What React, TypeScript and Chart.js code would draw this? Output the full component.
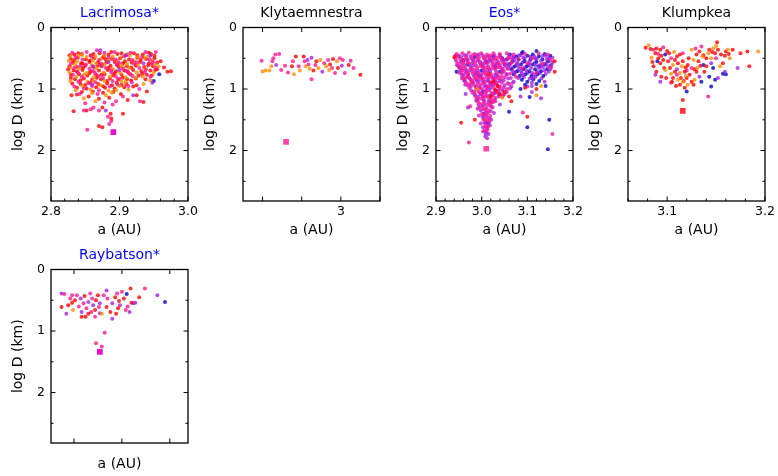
import React, { useEffect, useRef } from 'react';
import { Chart, registerables } from 'chart.js';
Chart.register(...registerables);

const FONT = "'DejaVu Sans', sans-serif";
const COL = {
  red: 'rgba(255,0,0,0.8)',
  orange: 'rgba(255,140,0,0.8)',
  pink: 'rgba(255,20,147,0.8)',
  purple: 'rgba(165,35,225,0.8)',
  violet: 'rgba(200,30,200,0.8)',
  blue: 'rgba(20,20,200,0.85)',
  magenta: 'rgba(230,0,200,0.95)',
};

// y axis (log D) ticks shared by all panels
const yTicks = [0, 0.5, 1, 1.5, 2, 2.5];
const yLabels = ['0', '', '1', '', '2', ''];

// ---------- Lacrimosa* ----------
const lacXTicks = [2.8, 2.82, 2.84, 2.86, 2.88, 2.9, 2.92, 2.94, 2.96, 2.98, 3.0];
const lacXLabels = ['2.8', '', '', '', '', '2.9', '', '', '', '', '3.0'];
const lacRed = [
  2.834,0.44, 2.845,0.43, 2.858,0.45, 2.871,0.42, 2.884,0.44, 2.897,0.43, 2.909,0.45, 2.921,0.42, 2.934,0.44, 2.946,0.43,
  2.829,0.51, 2.839,0.49, 2.851,0.52, 2.863,0.50, 2.876,0.49, 2.889,0.51, 2.901,0.50, 2.914,0.52, 2.926,0.49, 2.939,0.51, 2.951,0.50,
  2.832,0.57, 2.844,0.58, 2.856,0.56, 2.868,0.58, 2.881,0.57, 2.893,0.56, 2.905,0.58, 2.918,0.57, 2.930,0.56, 2.943,0.58,
  2.827,0.63, 2.838,0.64, 2.850,0.62, 2.862,0.64, 2.874,0.63, 2.887,0.62, 2.899,0.64, 2.911,0.63, 2.924,0.62, 2.936,0.64, 2.949,0.63,
  2.833,0.70, 2.846,0.69, 2.858,0.71, 2.870,0.70, 2.883,0.69, 2.895,0.71, 2.907,0.70, 2.920,0.69, 2.932,0.71, 2.945,0.70,
  2.829,0.77, 2.841,0.76, 2.853,0.78, 2.866,0.77, 2.878,0.76, 2.891,0.78, 2.903,0.77, 2.916,0.76, 2.928,0.78, 2.940,0.77,
  2.835,0.84, 2.848,0.83, 2.860,0.85, 2.873,0.84, 2.886,0.83, 2.898,0.85, 2.911,0.84, 2.924,0.83,
  2.831,0.91, 2.843,0.92, 2.857,0.90, 2.869,0.92, 2.882,0.91, 2.896,0.90, 2.910,0.92,
  2.838,0.98, 2.852,0.99, 2.866,0.97, 2.879,0.98, 2.893,0.99, 2.907,0.97, 2.920,0.96,
  2.845,1.05, 2.861,1.04, 2.876,1.06, 2.891,1.05, 2.902,1.08,
  2.830,1.10, 2.838,1.09, 2.855,1.12, 2.870,1.16, 2.885,1.14, 2.912,1.18, 2.935,1.21, 2.925,1.10, 2.940,1.04,
  2.833,1.36, 2.852,1.35, 2.875,1.30, 2.888,1.48, 2.870,1.60, 2.875,1.62, 2.960,0.55, 2.965,0.65, 2.975,0.71,
  2.970,0.72, 2.955,0.68, 2.905,1.40, 2.887,1.40,
  2.827,0.45, 2.840,0.42, 2.862,0.43, 2.877,0.47, 2.888,0.40, 2.903,0.42, 2.926,0.45, 2.943,0.41, 2.951,0.46,
  2.834,0.53, 2.857,0.535, 2.869,0.56, 2.880,0.52, 2.908,0.55, 2.931,0.53, 2.955,0.57, 2.846,0.585,
  2.825,0.68, 2.847,0.655, 2.868,0.62, 2.884,0.655, 2.896,0.61, 2.917,0.65, 2.942,0.615, 2.952,0.69,
  2.838,0.715, 2.856,0.745, 2.874,0.765, 2.893,0.745, 2.912,0.72, 2.933,0.755, 2.947,0.78,
  2.829,0.82, 2.843,0.86, 2.867,0.815, 2.882,0.87, 2.905,0.815, 2.917,0.86, 2.938,0.84,
  2.850,0.935, 2.876,0.955, 2.889,0.94, 2.903,0.93, 2.925,0.94,
];
const lacOrange = [
  2.828,0.47, 2.840,0.46, 2.852,0.48, 2.865,0.47, 2.878,0.46, 2.890,0.47, 2.903,0.48, 2.915,0.46, 2.927,0.48, 2.941,0.47,
  2.826,0.54, 2.838,0.55, 2.861,0.54, 2.884,0.53, 2.897,0.54, 2.922,0.55, 2.947,0.54,
  2.835,0.60, 2.859,0.61, 2.878,0.60, 2.902,0.61, 2.927,0.60, 2.952,0.61,
  2.841,0.67, 2.866,0.66, 2.890,0.67, 2.914,0.66, 2.939,0.67,
  2.827,0.73, 2.852,0.74, 2.877,0.73, 2.901,0.74, 2.925,0.73, 2.950,0.74,
  2.837,0.80, 2.862,0.81, 2.886,0.80, 2.909,0.81, 2.934,0.80,
  2.828,0.87, 2.853,0.88, 2.878,0.87, 2.903,0.88, 2.945,0.86,
  2.846,0.95, 2.872,0.94, 2.900,0.95, 2.935,0.92,
  2.836,1.02, 2.858,1.01, 2.884,1.03, 2.913,1.01,
  2.865,1.20, 2.880,1.10, 2.895,1.02, 2.848,1.15,
  2.845,0.445, 2.873,0.51, 2.912,0.43, 2.936,0.49, 2.866,0.585, 2.911,0.59, 2.829,0.65, 2.905,0.64, 2.957,0.63,
  2.848,0.765, 2.923,0.815, 2.862,0.87, 2.909,0.88, 2.889,1.06, 2.860,1.07,
];
const lacPink = [
  2.831,0.41, 2.852,0.40, 2.867,0.37, 2.878,0.41, 2.893,0.40, 2.916,0.41, 2.938,0.40, 2.953,0.40,
  2.846,0.52, 2.870,0.53, 2.894,0.52, 2.919,0.53, 2.944,0.52,
  2.829,0.59, 2.851,0.60, 2.874,0.59, 2.897,0.60, 2.921,0.59, 2.947,0.59,
  2.834,0.66, 2.856,0.67, 2.880,0.66, 2.905,0.67, 2.929,0.66, 2.953,0.66,
  2.839,0.73, 2.864,0.74, 2.888,0.73, 2.913,0.74, 2.937,0.73,
  2.845,0.80, 2.870,0.79, 2.895,0.80, 2.919,0.79, 2.945,0.80,
  2.840,0.88, 2.865,0.89, 2.890,0.87, 2.918,0.89,
  2.834,0.96, 2.860,0.95, 2.886,0.96, 2.913,0.95, 2.929,1.00,
  2.842,1.08, 2.868,1.08, 2.905,1.12, 2.930,1.20, 2.848,1.35, 2.858,1.33, 2.862,1.30, 2.870,1.35,
  2.883,1.45, 2.888,1.52, 2.885,1.57, 2.853,1.66, 2.890,1.25, 2.895,1.20, 2.878,1.22, 2.850,1.23,
  2.836,0.485, 2.859,0.47, 2.884,0.485, 2.907,0.47, 2.933,0.48, 2.949,0.56, 2.925,0.57, 2.899,0.57, 2.872,0.605,
  2.843,0.625, 2.862,0.705, 2.888,0.695, 2.910,0.705, 2.938,0.685, 2.832,0.77, 2.876,0.82, 2.900,0.835, 2.855,0.905,
  2.897,0.925, 2.870,1.02, 2.848,0.99,
];
const lacPurple = [
  2.872,0.37, 2.910,0.45, 2.861,0.63, 2.900,0.69, 2.935,0.58, 2.945,0.46, 2.884,0.56, 2.948,0.90,
  2.860,0.93, 2.920,1.10, 2.880,1.35,
];
const lacBlue = [2.958,0.76, 2.950,0.87];
const lacBig = [2.891,1.70];

// ---------- Klytaemnestra ----------
const klyXTicks = [2.92, 2.96, 3.0, 3.04];
const klyXLabels = ['', '', '3', ''];
const klyPink = [
  2.919,0.54, 2.930,0.55, 2.931,0.50, 2.933,0.44, 2.937,0.43, 2.939,0.69, 2.946,0.73, 2.951,0.55, 2.957,0.63,
  2.963,0.55, 2.967,0.60, 2.970,0.84, 2.974,0.61, 2.983,0.58, 2.987,0.53, 2.991,0.66, 2.994,0.74, 2.999,0.50,
  3.002,0.53, 3.004,0.74, 3.010,0.54, 3.013,0.66, 2.943,0.62,
];
const klyOrange = [
  2.920,0.715, 2.923,0.70, 2.927,0.70, 2.929,0.63, 2.952,0.76, 2.958,0.70, 2.964,0.63, 2.968,0.67, 2.977,0.66,
  2.979,0.53, 2.985,0.63, 2.996,0.55, 2.988,0.69,
];
const klyRed = [2.954,0.47, 2.962,0.47, 2.975,0.55, 2.989,0.60, 2.992,0.51, 3.008,0.61, 3.020,0.77, 2.950,0.63, 2.972,0.70, 2.997,0.66];
const klyPurple = [2.934,0.61, 2.966,0.53, 2.970,0.49, 2.981,0.72, 3.001,0.62];
const klyBig = [2.944,1.86];

// ---------- Eos* ----------
const eosXTicks = [2.9, 2.92, 2.94, 2.96, 2.98, 3.0, 3.02, 3.04, 3.06, 3.08, 3.1, 3.12, 3.14, 3.16, 3.18, 3.2];
const eosXLabels = ['2.9', '', '', '', '', '3.0', '', '', '', '', '3.1', '', '', '', '', '3.2'];
const eosRed = [
  3.030,1.02, 3.040,1.08, 3.050,1.05, 3.035,0.95, 3.060,1.12, 3.065,1.20, 2.955,1.55, 2.985,1.50, 3.100,1.45,
  3.160,0.72, 3.120,1.00, 3.095,0.98, 3.020,1.12, 3.025,0.88, 3.015,0.76, 2.940,0.48, 3.160,0.55,
];
const eosOrange = [3.120,1.10, 3.045,1.14, 3.130,0.95, 2.990,1.00];
const eosPink = [
  2.945,0.43, 2.958,0.42, 2.972,0.41, 2.985,0.43, 2.999,0.42, 3.012,0.44, 3.026,0.42, 3.040,0.43, 3.055,0.42, 3.070,0.44, 3.095,0.43, 3.125,0.42, 3.145,0.44,
  2.942,0.50, 2.953,0.51, 2.966,0.49, 2.978,0.50, 2.991,0.51, 3.004,0.49, 3.017,0.50, 3.030,0.52, 3.043,0.50, 3.058,0.49, 3.080,0.51, 3.110,0.50, 3.150,0.52,
  2.947,0.58, 2.960,0.57, 2.973,0.59, 2.986,0.57, 2.998,0.58, 3.011,0.59, 3.024,0.57, 3.037,0.58, 3.050,0.59, 3.066,0.57, 3.100,0.58, 3.135,0.59,
  2.951,0.66, 2.964,0.65, 2.977,0.67, 2.990,0.66, 3.003,0.65, 3.016,0.67, 3.029,0.66, 3.042,0.65, 3.057,0.67, 3.088,0.66, 3.152,0.65,
  2.955,0.74, 2.968,0.73, 2.981,0.75, 2.994,0.74, 3.007,0.73, 3.020,0.75, 3.033,0.74, 3.046,0.73, 3.062,0.75, 3.120,0.74,
  2.959,0.82, 2.972,0.81, 2.985,0.83, 2.998,0.82, 3.011,0.81, 3.024,0.83, 3.037,0.82, 3.050,0.81, 3.075,0.80,
  2.966,0.90, 2.979,0.89, 2.992,0.91, 3.005,0.90, 3.018,0.89, 3.031,0.91, 3.044,0.90, 3.060,0.92,
  2.973,0.98, 2.987,0.97, 3.000,0.99, 3.013,0.98, 3.026,0.97, 3.040,0.99, 3.055,1.00,
  2.980,1.06, 2.994,1.05, 3.008,1.07, 3.022,1.06, 3.036,1.05, 3.050,1.08,
  2.988,1.14, 3.002,1.13, 3.016,1.15, 3.030,1.14, 3.045,1.12,
  2.993,1.22, 3.006,1.21, 3.020,1.23, 3.030,1.20, 2.996,1.30, 3.010,1.31, 3.022,1.29, 3.001,1.40, 3.014,1.39,
  3.019,1.44, 3.004,1.50, 3.016,1.52, 3.008,1.60, 3.013,1.66,
  2.972,1.87, 3.155,1.73, 3.090,1.38, 2.975,1.28,
  2.948,0.47, 2.961,0.535, 2.956,0.62, 2.969,0.565, 2.981,0.445, 2.994,0.485, 3.007,0.515, 3.020,0.455, 3.034,0.49,
  3.047,0.565, 3.062,0.505, 2.958,0.70, 2.971,0.75, 2.984,0.685, 2.997,0.625, 3.010,0.66, 3.023,0.61, 3.036,0.645,
  3.049,0.705, 2.965,0.815, 2.978,0.86, 2.991,0.795, 3.004,0.835, 3.017,0.80, 3.030,0.845, 3.043,0.79, 2.975,0.915,
  2.988,0.955, 3.001,0.92, 3.014,0.955, 3.027,0.925, 3.040,0.96, 2.984,1.035, 2.997,1.07, 3.010,1.04, 3.023,1.08,
  3.036,1.02, 2.995,1.16, 3.008,1.125, 3.021,1.17, 2.999,1.245, 3.012,1.26, 3.025,1.215, 3.004,1.33, 3.016,1.345,
  3.007,1.42, 3.012,1.47, 3.009,1.51, 3.014,1.61, 3.006,1.68,
];
const eosMagenta = [
  2.950,0.46, 2.963,0.45, 2.976,0.47, 2.989,0.46, 3.002,0.45, 3.015,0.47, 3.028,0.46, 3.041,0.47, 3.060,0.46, 3.085,0.45, 3.115,0.47, 3.140,0.46,
  2.944,0.54, 2.957,0.55, 2.970,0.53, 2.983,0.54, 2.996,0.55, 3.009,0.53, 3.022,0.54, 3.035,0.55, 3.048,0.54, 3.072,0.53, 3.105,0.55, 3.130,0.54, 3.155,0.56,
  2.949,0.62, 2.962,0.61, 2.975,0.63, 2.988,0.62, 3.001,0.61, 3.014,0.63, 3.027,0.62, 3.040,0.61, 3.053,0.63, 3.080,0.62, 3.118,0.61, 3.145,0.63,
  2.953,0.70, 2.966,0.69, 2.979,0.71, 2.992,0.70, 3.005,0.69, 3.018,0.71, 3.031,0.70, 3.044,0.69, 3.068,0.71, 3.098,0.70, 3.138,0.70,
  2.957,0.78, 2.970,0.77, 2.983,0.79, 2.996,0.78, 3.009,0.77, 3.022,0.79, 3.035,0.78, 3.055,0.77, 3.090,0.78, 3.112,0.82,
  2.963,0.86, 2.976,0.85, 2.989,0.87, 3.002,0.86, 3.015,0.85, 3.028,0.87, 3.048,0.86, 3.070,0.88,
  2.970,0.94, 2.983,0.93, 2.996,0.95, 3.009,0.94, 3.022,0.93, 3.035,0.95, 3.065,0.96,
  2.977,1.02, 2.990,1.01, 3.003,1.03, 3.016,1.02, 3.029,1.01, 3.045,1.03,
  2.985,1.10, 2.998,1.09, 3.011,1.11, 3.024,1.10, 3.038,1.09,
  2.990,1.18, 3.003,1.17, 3.016,1.19, 3.028,1.17, 2.993,1.26, 3.005,1.25, 3.018,1.27, 2.998,1.35, 3.008,1.34,
  3.020,1.36, 3.002,1.45, 3.011,1.44, 3.017,1.48, 3.006,1.55, 3.014,1.57, 3.003,1.62, 3.010,1.70, 3.015,1.73,
  3.008,1.77, 3.012,1.62,
  2.970,1.30, 3.130,1.15, 3.040,1.25, 3.085,1.12, 3.110,1.05, 2.965,1.08, 3.110,0.95, 3.138,0.88,
  2.943,0.455, 2.955,0.48, 2.968,0.515, 2.979,0.575, 2.992,0.535, 3.005,0.575, 3.018,0.525, 3.031,0.585, 3.044,0.535,
  3.057,0.595, 3.070,0.48, 3.078,0.575, 3.091,0.49, 3.104,0.595, 3.117,0.505, 3.130,0.60, 3.143,0.515, 3.153,0.60,
  2.952,0.645, 2.965,0.72, 2.978,0.66, 2.991,0.745, 3.004,0.72, 3.017,0.68, 3.030,0.76, 3.043,0.725, 3.058,0.665,
  3.072,0.74, 3.086,0.71, 3.110,0.735, 3.126,0.66, 3.150,0.68, 2.961,0.765, 2.974,0.83, 2.987,0.765, 3.000,0.805,
  3.013,0.87, 3.026,0.815, 3.039,0.87, 3.058,0.83, 3.080,0.82, 2.981,0.885, 2.994,0.87, 3.007,0.965, 3.020,0.985,
  3.033,0.90, 3.050,0.94, 2.992,1.125, 3.005,1.19, 3.018,1.10, 3.031,1.06, 3.002,1.285, 3.015,1.215, 3.010,1.38,
  3.004,1.47, 3.016,1.54, 3.011,1.64, 3.009,1.73,
];
const eosViolet = [
  2.946,0.615, 2.951,0.735, 2.959,0.665, 2.962,0.87, 2.967,0.455, 2.969,0.80, 2.973,0.695, 2.976,0.955, 2.980,0.52,
  2.982,0.615, 2.985,1.08, 2.987,0.725, 2.989,0.84, 2.993,0.44, 2.995,0.985, 2.997,0.585, 3.000,0.76, 3.002,1.11,
  3.004,0.635, 3.006,0.875, 3.008,0.47, 3.011,1.01, 3.013,0.705, 3.015,0.56, 3.019,0.925, 3.021,1.205, 3.024,0.665,
  3.026,0.50, 3.028,1.07, 3.032,0.795, 3.034,0.605, 3.037,1.12, 3.039,0.445, 3.042,0.84, 3.046,0.665, 3.048,0.985,
  3.052,0.525, 3.054,0.755, 3.057,0.905, 3.061,0.62, 3.064,0.82, 2.988,1.19, 2.991,1.32, 3.024,1.30, 3.027,1.39,
  2.994,1.43, 3.021,1.50, 2.998,1.56, 3.018,1.59, 3.003,1.69, 3.012,1.80, 2.954,0.565, 2.957,0.83, 2.964,0.93,
  3.047,1.10, 3.055,1.05, 3.062,0.99, 3.068,0.90,
];
const eosPurple = [
  3.068,0.49, 3.081,0.455, 3.094,0.505, 3.107,0.475, 3.120,0.51, 3.133,0.465, 3.146,0.505, 3.064,0.575, 3.077,0.59,
  3.090,0.565, 3.103,0.61, 3.116,0.575, 3.129,0.62, 3.142,0.575, 3.155,0.49, 3.069,0.645, 3.082,0.665, 3.095,0.645,
  3.108,0.66, 3.121,0.715, 3.134,0.645, 3.147,0.72, 3.075,0.72, 3.088,0.745, 3.101,0.735, 3.114,0.765, 3.127,0.745,
  3.140,0.755, 3.092,0.81, 3.105,0.835, 3.118,0.80, 3.131,0.83, 3.100,0.96, 3.110,0.90,
];
const eosBlue = [
  3.062,0.44, 3.075,0.47, 3.088,0.42, 3.100,0.46, 3.112,0.44, 3.125,0.47, 3.138,0.43, 3.150,0.46,
  3.055,0.52, 3.068,0.55, 3.081,0.52, 3.094,0.55, 3.107,0.52, 3.120,0.56, 3.133,0.52, 3.146,0.55,
  3.060,0.60, 3.073,0.63, 3.086,0.60, 3.099,0.63, 3.112,0.60, 3.125,0.63, 3.138,0.60, 3.151,0.62,
  3.065,0.68, 3.078,0.71, 3.091,0.68, 3.104,0.71, 3.117,0.68, 3.130,0.71, 3.143,0.68,
  3.070,0.76, 3.083,0.79, 3.096,0.76, 3.109,0.79, 3.122,0.76, 3.135,0.79,
  3.088,0.85, 3.100,0.88, 3.113,0.84, 3.126,0.87, 3.095,0.93, 3.120,0.92, 3.140,0.95,
  2.945,0.72, 2.985,0.48, 3.010,0.56, 3.030,0.64, 2.995,0.80, 3.040,0.72, 3.020,0.90, 2.970,0.60, 3.045,0.50,
  3.005,1.40, 3.010,1.55, 3.002,1.05,
  3.060,1.37, 3.100,1.62, 3.145,1.98, 3.148,1.50, 3.085,1.00, 3.105,1.13, 3.090,0.40, 3.120,0.38,
  2.960,0.53, 3.000,0.70, 3.025,0.47, 3.050,0.60,
];
const eosBig = [3.010,1.97];

// ---------- Klumpkea ----------
const klmXTicks = [3.06, 3.08, 3.1, 3.12, 3.14, 3.16, 3.18, 3.2];
const klmXLabels = ['', '', '3.1', '', '', '', '', '3.2'];
const klmRed = [
  3.083,0.35, 3.089,0.34, 3.093,0.36, 3.100,0.38, 3.088,0.42, 3.094,0.46, 3.096,0.53, 3.101,0.55, 3.093,0.58,
  3.086,0.63, 3.089,0.72, 3.094,0.80, 3.103,0.66, 3.108,0.53, 3.110,0.47, 3.113,0.44, 3.111,0.58, 3.116,0.55,
  3.118,0.72, 3.106,0.82, 3.113,0.93, 3.120,0.82, 3.118,0.98, 3.123,0.77, 3.121,0.61, 3.130,0.44, 3.133,0.39,
  3.132,0.55, 3.130,0.72, 3.138,0.72, 3.140,0.50, 3.143,0.36, 3.151,0.24, 3.149,0.42, 3.157,0.58, 3.155,0.44,
  3.160,0.39, 3.167,0.36, 3.182,0.39, 3.184,0.63, 3.116,1.18, 3.102,0.42, 3.108,0.72, 3.114,0.82, 3.099,0.82,
  3.125,0.88, 3.127,0.93, 3.140,0.63, 3.152,0.36, 3.078,0.33, 3.091,0.50, 3.105,0.88, 3.119,0.65, 3.128,0.68,
  3.137,0.45, 3.146,0.40, 3.159,0.46, 3.117,0.87, 3.109,0.95, 3.163,0.43, 3.097,0.66, 3.085,0.56, 3.122,0.50,
  3.134,0.62, 3.175,0.42,
];
const klmOrange = [
  3.081,0.29, 3.084,0.49, 3.098,0.69, 3.106,0.61, 3.115,0.63, 3.113,0.74, 3.111,0.85, 3.116,0.88, 3.121,0.93,
  3.127,0.53, 3.125,0.36, 3.128,0.85, 3.142,0.42, 3.147,0.34, 3.154,0.63, 3.162,0.36, 3.164,0.50, 3.193,0.39,
  3.131,0.66, 3.136,0.47, 3.145,0.50, 3.119,0.79, 3.104,0.75, 3.150,0.30, 3.107,0.40,
];
const klmPink = [3.086,0.36, 3.096,0.32, 3.091,0.43, 3.110,0.77, 3.125,0.66, 3.135,0.31, 3.150,0.50, 3.142,1.12, 3.104,0.50, 3.104,0.90, 3.129,0.34, 3.116,0.42, 3.120,0.70];
const klmPurple = [3.088,0.77, 3.093,0.88, 3.133,0.80, 3.145,0.58, 3.152,0.82, 3.159,0.72, 3.172,0.66, 3.110,0.68];
const klmBlue = [3.098,0.44, 3.120,1.04, 3.137,0.61, 3.135,0.88, 3.147,0.66, 3.143,0.80, 3.149,0.85, 3.145,0.96, 3.160,0.76, 3.157,0.75, 3.090,0.55];
const klmBig = [3.116,1.355];

// ---------- Raybatson* ----------
const rayXTicks = [3.0, 3.05, 3.1];
const rayXLabels = ['', '', ''];
const rayPink = [
  2.990,0.40, 2.996,0.47, 3.003,0.42, 3.005,0.60, 3.010,0.55, 3.013,0.63, 3.017,0.39, 3.018,0.69, 3.019,0.47,
  3.022,0.77, 3.026,0.61, 3.031,0.42, 3.035,0.47, 3.045,0.39, 3.050,0.36, 3.054,0.66, 3.056,0.60, 3.074,0.31,
  3.032,1.03, 3.023,1.20, 3.029,1.25, 2.998,0.42,
];
const rayRed = [
  2.987,0.61, 2.994,0.58, 2.998,0.54, 3.001,0.50, 3.011,0.43, 3.012,0.77, 3.023,0.50, 3.025,0.42, 3.034,0.61,
  3.038,0.69, 3.043,0.45, 3.047,0.51, 3.052,0.47, 3.059,0.31, 3.060,0.54, 3.068,0.45, 3.015,0.72, 3.008,0.77,
  3.044,0.72, 3.046,0.63, 3.022,0.66,
];
const rayOrange = [2.999,0.66, 3.029,0.72];
const rayPurple = [
  2.987,0.39, 2.992,0.72, 3.007,0.47, 3.008,0.69, 3.015,0.53, 3.020,0.58, 3.027,0.71, 3.027,0.55, 3.034,0.34,
  3.040,0.80, 3.040,0.55, 3.048,0.58, 3.058,0.69, 3.062,0.55, 3.064,0.54, 3.087,0.42,
];
const rayBlue = [3.055,0.40, 3.095,0.53];
const rayBig = [3.027,1.34];

type Series = { data: number[]; color: string; big?: boolean };
type PanelCfg = {
  title: string; titleColor: string; left: number; top: number;
  xMin: number; xMax: number; xTicks: number[]; xLabels: string[]; majorAll?: boolean;
  showXLabels: boolean; xTitlePad: number; series: Series[];
};

const panels: PanelCfg[] = [
  {
    title: 'Lacrimosa*', titleColor: '#0000ff', left: 0, top: 0, xMin: 2.8, xMax: 3.0,
    xTicks: lacXTicks, xLabels: lacXLabels, showXLabels: true, xTitlePad: 2,
    series: [
      { data: lacPurple, color: COL.purple }, { data: lacPink, color: COL.pink },
      { data: lacOrange, color: COL.orange }, { data: lacRed, color: COL.red },
      { data: lacBlue, color: COL.blue }, { data: lacBig, color: COL.magenta, big: true },
    ],
  },
  {
    title: 'Klytaemnestra', titleColor: '#000000', left: 192, top: 0, xMin: 2.9, xMax: 3.04,
    xTicks: klyXTicks, xLabels: klyXLabels, majorAll: true, showXLabels: true, xTitlePad: 2,
    series: [
      { data: klyOrange, color: COL.orange }, { data: klyRed, color: COL.red },
      { data: klyPink, color: COL.pink }, { data: klyPurple, color: COL.purple },
      { data: klyBig, color: COL.pink, big: true },
    ],
  },
  {
    title: 'Eos*', titleColor: '#0000ff', left: 385, top: 0, xMin: 2.9, xMax: 3.2,
    xTicks: eosXTicks, xLabels: eosXLabels, showXLabels: true, xTitlePad: 2,
    series: [
      { data: eosRed, color: COL.red }, { data: eosOrange, color: COL.orange },
      { data: eosPink, color: COL.pink }, { data: eosMagenta, color: COL.purple },
      { data: eosViolet, color: COL.violet }, { data: eosBlue, color: COL.blue },
      { data: eosPurple, color: COL.purple }, { data: eosBig, color: COL.pink, big: true },
    ],
  },
  {
    title: 'Klumpkea', titleColor: '#000000', left: 577, top: 0, xMin: 3.06, xMax: 3.2,
    xTicks: klmXTicks, xLabels: klmXLabels, showXLabels: true, xTitlePad: 2,
    series: [
      { data: klmOrange, color: COL.orange }, { data: klmRed, color: COL.red },
      { data: klmPink, color: COL.pink }, { data: klmPurple, color: COL.purple },
      { data: klmBlue, color: COL.blue }, { data: klmBig, color: COL.red, big: true },
    ],
  },
  {
    title: 'Raybatson*', titleColor: '#0000ff', left: 0, top: 242, xMin: 2.976, xMax: 3.119,
    xTicks: rayXTicks, xLabels: rayXLabels, majorAll: true, showXLabels: false, xTitlePad: 10,
    series: [
      { data: rayOrange, color: COL.orange }, { data: rayRed, color: COL.red },
      { data: rayPink, color: COL.pink }, { data: rayPurple, color: COL.purple },
      { data: rayBlue, color: COL.blue }, { data: rayBig, color: COL.magenta, big: true },
    ],
  },
];

const CW = 200;
const CH = 241;

function toPoints(a: number[]) {
  const r: { x: number; y: number }[] = [];
  for (let i = 0; i + 1 < a.length; i += 2) r.push({ x: a[i], y: a[i + 1] });
  return r;
}

function labelFor(vals: number[], labels: string[], v: number) {
  for (let i = 0; i < vals.length; i++) if (Math.abs(vals[i] - v) < 1e-9) return labels[i];
  return '';
}

function Panel({ cfg }: { cfg: PanelCfg }) {
  const ref = useRef<HTMLCanvasElement | null>(null);
  useEffect(() => {
    if (!ref.current) return;
    const framePlugin = {
      id: 'frameTicks',
      afterDraw(chart: any) {
        const { ctx, chartArea, scales } = chart;
        const { left, right, top, bottom } = chartArea;
        ctx.save();
        ctx.strokeStyle = '#000';
        ctx.lineWidth = 1.3;
        ctx.strokeRect(left, top, right - left, bottom - top);
        ctx.lineWidth = 1;
        ctx.beginPath();
        cfg.xTicks.forEach((v, i) => {
          const major = cfg.majorAll || cfg.xLabels[i] !== '';
          const len = major ? 4.5 : 2.5;
          const px = scales.x.getPixelForValue(v);
          ctx.moveTo(px, bottom); ctx.lineTo(px, bottom - len);
          ctx.moveTo(px, top); ctx.lineTo(px, top + len);
        });
        yTicks.forEach((v, i) => {
          const major = yLabels[i] !== '';
          const len = major ? 4.5 : 2.5;
          const py = scales.y.getPixelForValue(v);
          ctx.moveTo(left, py); ctx.lineTo(left + len, py);
          ctx.moveTo(right, py); ctx.lineTo(right - len, py);
        });
        ctx.stroke();
        ctx.fillStyle = cfg.titleColor;
        ctx.font = `14px ${FONT}`;
        ctx.textAlign = 'center';
        ctx.textBaseline = 'middle';
        ctx.fillText(cfg.title, (left + right) / 2, 13);
        ctx.restore();
      },
    };
    const chart = new Chart(ref.current, {
      type: 'scatter',
      data: {
        datasets: cfg.series.map((s) => ({
          data: toPoints(s.data),
          backgroundColor: s.color,
          borderWidth: 0,
          pointRadius: s.big ? 4 : 2,
          pointStyle: s.big ? 'rect' : 'circle',
          pointHoverRadius: s.big ? 4 : 2,
        })),
      },
      options: {
        responsive: false,
        animation: false,
        events: [],
        layout: { padding: { top: 27.5, left: 0, right: CW - 188, bottom: 0 } },
        plugins: { legend: { display: false }, tooltip: { enabled: false }, title: { display: false } },
        scales: {
          x: {
            type: 'linear', position: 'bottom', min: cfg.xMin, max: cfg.xMax,
            grid: { display: false, drawTicks: false },
            border: { display: false },
            afterBuildTicks: (s: any) => { s.ticks = cfg.xTicks.map((value) => ({ value })); },
            afterFit: (s: any) => { s.height = 40; s.paddingLeft = 0; s.paddingRight = 0; s.paddingTop = 0; s.paddingBottom = 0; },
            ticks: {
              display: cfg.showXLabels, autoSkip: false, maxRotation: 0, minRotation: 0, padding: 3,
              color: '#000', font: { family: FONT, size: 12.5 },
              callback: (v: any) => labelFor(cfg.xTicks, cfg.xLabels, Number(v)),
            },
            title: {
              display: true, text: 'a (AU)', color: '#000', font: { family: FONT, size: 14 },
              padding: { top: 0, bottom: cfg.xTitlePad },
            },
          },
          y: {
            type: 'linear', position: 'left', reverse: true, min: 0, max: 2.82,
            grid: { display: false, drawTicks: false },
            border: { display: false },
            afterBuildTicks: (s: any) => { s.ticks = yTicks.map((value) => ({ value })); },
            afterFit: (s: any) => { s.width = 51; s.paddingLeft = 0; s.paddingRight = 0; s.paddingTop = 0; s.paddingBottom = 0; },
            ticks: {
              autoSkip: false, padding: 6, color: '#000', font: { family: FONT, size: 12.5 },
              callback: (v: any) => labelFor(yTicks, yLabels, Number(v)),
            },
            title: {
              display: true, text: 'log D (km)', color: '#000', font: { family: FONT, size: 14 },
              padding: { top: 10, bottom: 0 },
            },
          },
        },
      } as any,
      plugins: [framePlugin],
    });
    return () => chart.destroy();
  }, [cfg]);
  return (
    <canvas
      ref={ref}
      width={CW}
      height={CH}
      style={{ position: 'absolute', left: cfg.left, top: cfg.top, width: CW, height: CH }}
    />
  );
}

export default function App() {
  return (
    <div style={{ position: 'absolute', left: 0, top: 0, width: 778, height: 476, background: '#fff' }}>
      {panels.map((p) => (
        <Panel key={p.title} cfg={p} />
      ))}
    </div>
  );
}
